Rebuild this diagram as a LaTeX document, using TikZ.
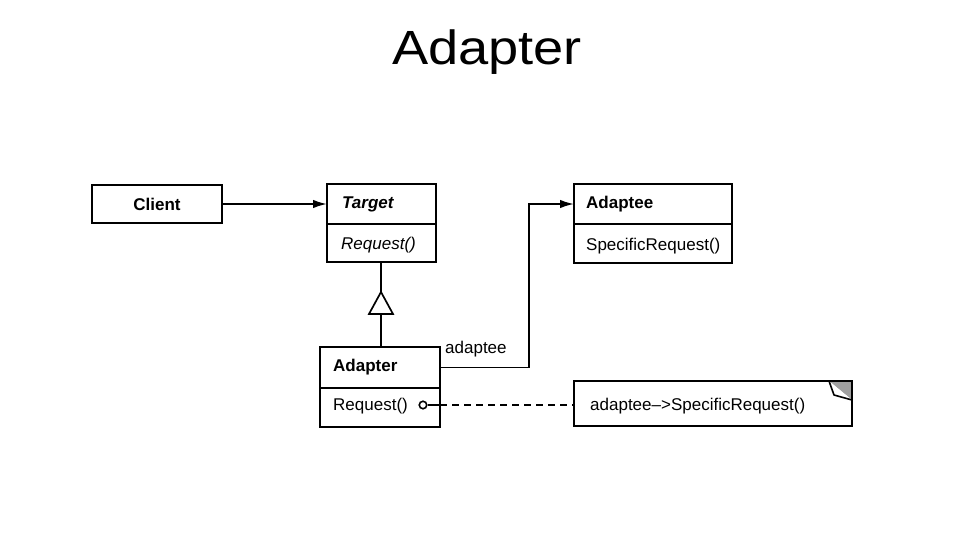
\documentclass[tikz,border=0pt]{standalone}
\usepackage{fontspec}
\setmainfont{Liberation Sans}
\usetikzlibrary{arrows.meta}
\tikzset{
  box/.style={draw, line width=1.9pt, inner sep=0pt, outer sep=0pt, fill=white},
  lbl/.style={inner sep=0pt, font=\fontsize{17}{20}\selectfont},
  conn/.style={line width=1.7pt},
  arr/.style={conn, -{Latex[length=14pt,width=8.5pt]}},
  dashline/.style={line width=1.6pt, dash pattern=on 7pt off 5pt},
}
\begin{document}
\begin{tikzpicture}[x=1pt,y=-1pt]
\useasboundingbox (0,0) rectangle (974,535);
% title
\node[inner sep=0pt, anchor=base, font=\fontsize{48}{52}\selectfont] (title) at (487,64) {\scalebox{1.13}[1]{Adapter}};
% Client
\node[box, minimum width=130pt, minimum height=38pt, anchor=north west] (client) at (92,185) {};
\node[lbl, anchor=base, font=\fontsize{17}{20}\selectfont\bfseries] (clientT) at (157,210) {Client};
% Target
\node[box, minimum width=109pt, minimum height=40pt, anchor=north west] (targetH) at (327,184) {};
\node[box, minimum width=109pt, minimum height=38pt, anchor=north] (targetB) at (targetH.south) {};
\node[lbl, anchor=base west, font=\fontsize{17}{20}\selectfont\bfseries\itshape] (targetT) at (342,208) {Target};
\node[lbl, anchor=base west, font=\fontsize{17}{20}\selectfont\itshape] (targetM) at (341,249) {Request()};
% Adaptee
\node[box, minimum width=158pt, minimum height=40pt, anchor=north west] (adapteeH) at (574,184) {};
\node[box, minimum width=158pt, minimum height=39pt, anchor=north] (adapteeB) at (adapteeH.south) {};
\node[lbl, anchor=base west, font=\fontsize{17}{20}\selectfont\bfseries] (adapteeT) at (586,208) {Adaptee};
\node[lbl, anchor=base west] (adapteeM) at (586,250) {SpecificRequest()};
% Adapter
\node[box, minimum width=120pt, minimum height=41pt, anchor=north west] (adapterH) at (320,347) {};
\node[box, minimum width=120pt, minimum height=39pt, anchor=north] (adapterB) at (adapterH.south) {};
\node[lbl, anchor=base west, font=\fontsize{17}{20}\selectfont\bfseries] (adapterT) at (333,371) {Adapter};
\node[lbl, anchor=base west] (adapterM) at (333,410) {Request()};
% Note
\node[box, minimum width=278pt, minimum height=45pt, anchor=north west] (note) at (574,381) {};
\fill[gray!75] (829,381) -- (852,381) -- (852,400) -- cycle;
\draw[line width=1.6pt, fill=white, line join=round] (829,381) -- (834,395) -- (852,400);
\draw[line width=1.9pt] (note.north west) rectangle (note.south east);
\node[lbl, anchor=base west] (noteT) at (590,410) {adaptee–>SpecificRequest()};
% connectors
\draw[arr] (client.east) -- (targetH.west);
\coordinate (triTop) at (381,292);
\coordinate (triBase) at (381,314);
\draw[conn] (triTop |- targetB.south) -- (triTop);
\draw[conn, line join=miter] (triTop) -- ++(12,22) -- ++(-24,0) -- cycle;
\draw[conn] (triBase) -- (triBase |- adapterH.north);
\draw[arr] (adapterH.east) -- ++(89,0) |- (adapteeH.west);
\node[lbl, anchor=base west] (adapteeL) at (445,353) {adaptee};
\node[circle, draw, line width=1.6pt, inner sep=0pt, minimum size=7.5pt] (dot) at (423,405) {};
\coordinate (edge) at (adapterB.east |- dot);
\draw[conn] (dot.east) -- (edge);
\draw[dashline] (edge) -- (note.west |- dot);
\end{tikzpicture}
\end{document}
